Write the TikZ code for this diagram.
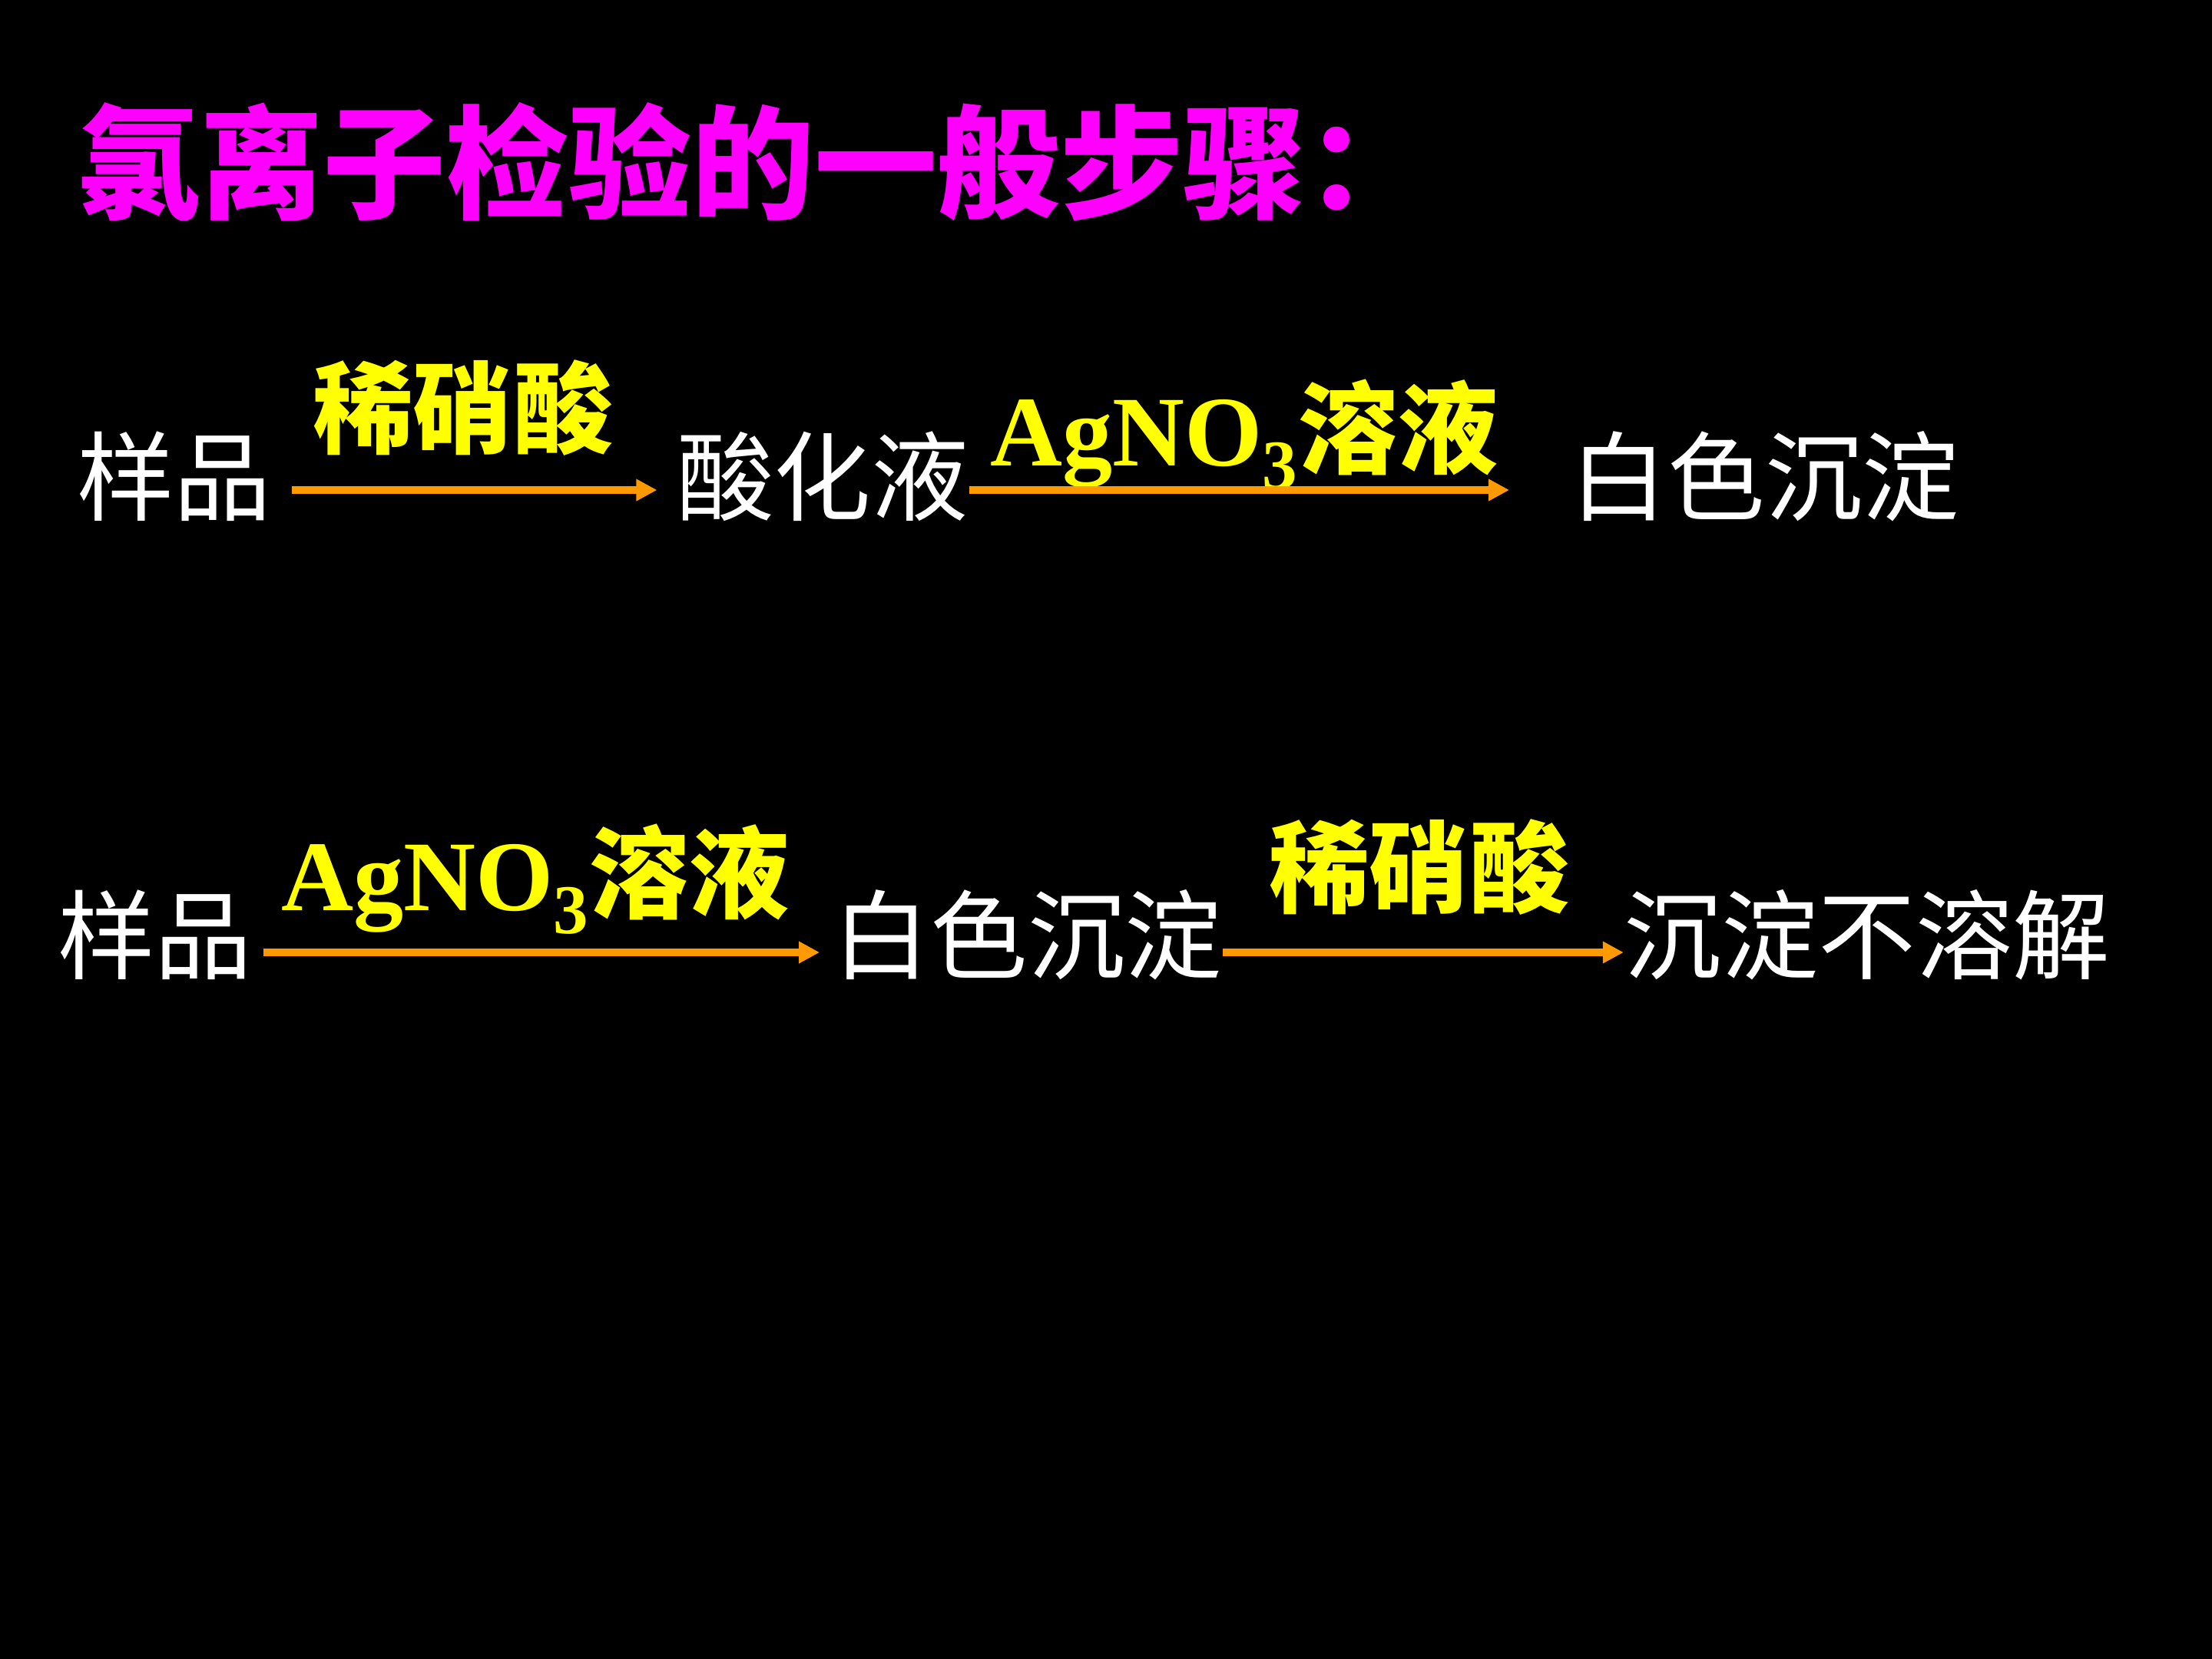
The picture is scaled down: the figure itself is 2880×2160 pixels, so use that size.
\documentclass[tikz,border=0pt]{standalone}
\usepackage{fontspec}
\setmainfont{Liberation Serif}
\newfontfamily\cjk{Noto Sans CJK SC}
\usetikzlibrary{positioning}
\usetikzlibrary{%
  calc,%
  arrows.meta%
}
\definecolor{titlemag}{RGB}{255,0,255}
\definecolor{reagent}{RGB}{255,255,0}
\definecolor{flowline}{RGB}{255,153,0}
\tikzset{
  title/.style={inner sep=0pt, anchor=west, text=titlemag,
    font=\cjk\bfseries\fontsize{45.5pt}{50pt}\selectfont},
  chem/.style={inner sep=0pt, text=white,
    font=\cjk\fontsize{36pt}{40pt}\selectfont},
  reag/.style={inner sep=0pt, anchor=base, text=reagent,
    font=\bfseries\fontsize{37pt}{40pt}\selectfont},
  flow/.style={draw=flowline, line width=0.1cm,
    -{Triangle[length=0.27cm,width=0.27cm]}}
}
\newcommand{\silver}{AgNO\textsubscript{3}{\cjk 溶液}}
\begin{document}
\begin{tikzpicture}[x=0.01cm,y=-0.01cm]
\useasboundingbox (0,0) rectangle (2880,2160);
\fill[black] (0,0) rectangle (2880,2160);
\node[title] (ttl) at (100,211) {氯离子检验的一般步骤：};
% first route: acid first
\node[chem] (s1) at (227,620) {样品};
\node[chem] (s2) at (1071,620) {酸化液};
\node[chem] (s3) at (2298,620) {白色沉淀};
\node[reag] (r1) at (603,580) {{\cjk 稀硝酸}};
\node[reag] (r2) at (1620,606) {\silver};
% second route: silver nitrate first
\node[chem] (t1) at (202,1217) {样品};
\node[chem] (t2) at (1338,1217) {白色沉淀};
\node[chem] (t3) at (2431,1217) {沉淀不溶解};
\node[reag] (q1) at (697,1185) {\silver};
\node[reag] (q2) at (1848,1178) {{\cjk 稀硝酸}};

\draw[flow, shorten <=0.26cm, shorten >=0.25cm]
  ([yshift=-0.18cm]s1.east) -- ([yshift=-0.18cm]s2.west);
\draw[flow, shorten >=0.79cm]
  ([yshift=-0.18cm]s2.east) -- ([yshift=-0.18cm]s3.west);
\draw[flow, shorten <=0.14cm, shorten >=0.17cm]
  ([yshift=-0.23cm]t1.east) -- ([yshift=-0.23cm]t2.west);
\draw[flow]
  ([yshift=-0.23cm]t2.east) -- ([yshift=-0.23cm]t3.west);
\end{tikzpicture}
\end{document}
